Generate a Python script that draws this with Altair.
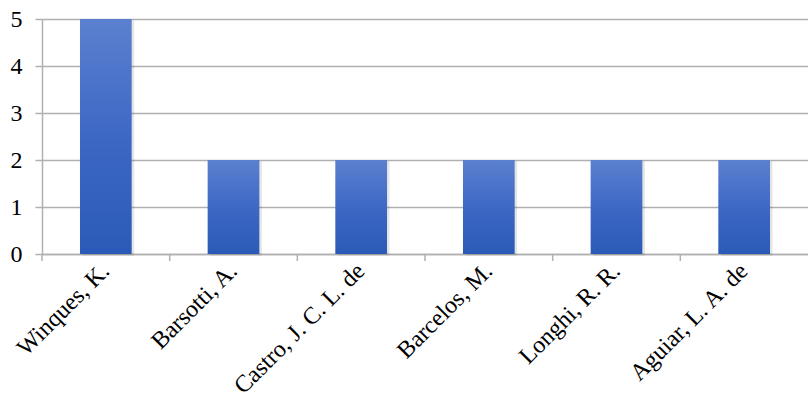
import altair as alt
import pandas as pd

authors = ["Winques, K.", "Barsotti, A.", "Castro, J. C. L. de", "Barcelos, M.", "Longhi, R. R.", "Aguiar, L. A. de"]
counts = [5, 2, 2, 2, 2, 2]

df = pd.DataFrame({"author": authors, "count": counts})

FONT = "Liberation Serif"
GRAY = "#b0b0b0"

xscale = alt.Scale(paddingInner=0, paddingOuter=0)
xaxis = alt.Axis(labelAngle=-45, labelAlign="right", labelBaseline="middle",
                 labelFont=FONT, labelFontSize=24, labelColor="#000000",
                 labelPadding=13, ticks=False, domain=True, domainColor=GRAY,
                 domainWidth=1.5, grid=False, labelOverlap=False, labelLimit=0)
yaxis = alt.Axis(values=[0, 1, 2, 3, 4, 5], format="d", labelFont=FONT,
                 labelFontSize=24, labelColor="#000000", labelPadding=13,
                 tickSize=7, tickColor=GRAY, tickWidth=1.5, domain=True,
                 domainColor=GRAY, domainWidth=1.5, grid=True, gridColor=GRAY,
                 gridWidth=1.5)
yscale = alt.Scale(domain=[0, 5], nice=False)

grad = alt.Gradient(
    gradient="linear",
    stops=[alt.GradientStop(color="#5b80cf", offset=0),
           alt.GradientStop(color="#3d68c4", offset=0.5),
           alt.GradientStop(color="#2a5ab7", offset=1)],
    x1=0, x2=0, y1=0, y2=1,
)

base = alt.Chart(df)

shadow = base.mark_bar(width=alt.RelativeBandSize(0.405), color="#000000", opacity=0.10,
                       xOffset=2.5, yOffset=1.5).encode(
    x=alt.X("author:N", sort=None, scale=xscale, title=None, axis=xaxis),
    y=alt.Y("count:Q", title=None, scale=yscale, axis=yaxis),
)

bars = base.mark_bar(width=alt.RelativeBandSize(0.405), color=grad).encode(
    x=alt.X("author:N", sort=None, scale=xscale, title=None, axis=xaxis),
    y=alt.Y("count:Q", title=None, scale=yscale, axis=yaxis),
)

ticks = base.mark_rule(color=GRAY, strokeWidth=1.5).encode(
    x=alt.X("author:N", sort=None, scale=xscale, bandPosition=0, title=None, axis=xaxis),
    y=alt.value(235),
    y2=alt.value(242),
)

chart = alt.layer(shadow, bars, ticks).properties(
    width=766, height=235,
    autosize=alt.AutoSizeParams(type="none"),
    padding={"left": 42, "top": 19, "right": 0, "bottom": 144},
).configure_view(stroke=None).configure(background="#ffffff")

chart.save("out.html", embed_options={"renderer": "svg", "actions": False})
